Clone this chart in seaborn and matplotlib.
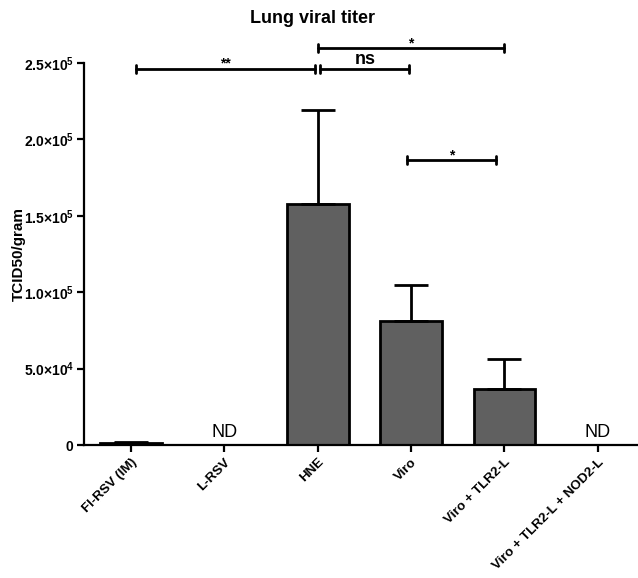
import numpy as np
import pandas as pd
import seaborn as sns
import matplotlib.pyplot as plt

# data
groups = ['FI-RSV (IM)', 'L-RSV', 'HNE', 'Viro', 'Viro + TLR2-L', 'Viro + TLR2-L + NOD2-L']
titer = [1200, 0, 158000, 81000, 36600, 0]
sem = [900, 0, 61000, 23600, 19600, 0]
detected = [True, False, True, True, True, False]

# significance brackets: (x start, x end, height, label)
brackets = [
    (0.05, 1.97, 246300, '**'),
    (2.03, 2.98, 246300, 'ns'),
    (2.00, 3.99, 260000, '*'),
    (2.96, 3.91, 186400, '*'),
]

yticks = [0, 50000, 100000, 150000, 200000, 250000]
ytick_labels = [r'$\mathbf{0}$', r'$\mathbf{5.0{\times}10^4}$', r'$\mathbf{1.0{\times}10^5}$',
                r'$\mathbf{1.5{\times}10^5}$', r'$\mathbf{2.0{\times}10^5}$', r'$\mathbf{2.5{\times}10^5}$']

sns.set_style('ticks')
plt.rcParams['font.family'] = ['Liberation Sans', 'DejaVu Sans']
plt.rcParams['mathtext.fontset'] = 'custom'
plt.rcParams['mathtext.rm'] = 'Liberation Sans'
plt.rcParams['mathtext.bf'] = 'Liberation Sans:bold'
for k in ['text.color', 'axes.labelcolor', 'xtick.color', 'ytick.color', 'axes.edgecolor']:
    plt.rcParams[k] = 'black'

df = pd.DataFrame({'group': groups, 'titer': titer})

fig = plt.figure(figsize=(6.38, 5.78), dpi=100)
ax = fig.add_axes([0.132, 0.230, 0.868, 0.661])

sns.barplot(data=df, x='group', y='titer', color='#606060', saturation=1,
            edgecolor='black', linewidth=2, width=0.66, errorbar=None, ax=ax)

# upward-only error bars
xs = np.arange(len(groups))
for x, m, e, d in zip(xs, titer, sem, detected):
    if not d:
        ax.text(x, 2500, 'ND', ha='center', va='bottom', fontsize=13)
        continue
    ax.errorbar(x, m, yerr=[[0], [e]], fmt='none', ecolor='black',
                elinewidth=2, capsize=12, capthick=2, zorder=1)

# significance brackets
for x0, x1, h, lab in brackets:
    ax.plot([x0, x1], [h, h], color='black', lw=2, clip_on=False)
    for xe in (x0, x1):
        ax.plot([xe, xe], [h - 2600, h + 2600], color='black', lw=2, clip_on=False)
    if lab == 'ns':
        ax.text((x0 + x1) / 2, h + 600, lab, ha='center', va='bottom',
                fontsize=13, fontweight='bold')
    else:
        ax.text((x0 + x1) / 2, h - 1500, lab, ha='center', va='bottom',
                fontsize=10, fontweight='bold')

ax.set_xlim(-0.5, 5.43)
ax.set_ylim(0, 250000)
ax.set_yticks(yticks)
ax.set_yticklabels(ytick_labels, fontsize=10)
ax.set_xticks(xs)
ax.set_xticklabels(groups, rotation=45, ha='right', rotation_mode='anchor',
                   fontsize=9.6, fontweight='bold')
ax.set_xlabel('')
ax.set_ylabel('TCID50/gram', fontsize=11, fontweight='bold')
ax.yaxis.set_label_coords(-0.105, 0.5)
fig.text(0.49, 0.968, 'Lung viral titer', ha='center', va='center',
         fontsize=13, fontweight='bold')

for s in ['top', 'right']:
    ax.spines[s].set_visible(False)
for s in ['left', 'bottom']:
    ax.spines[s].set_linewidth(1.6)
ax.tick_params(axis='both', width=1.6, length=5, color='black')
ax.tick_params(axis='x', pad=3)
ax.tick_params(axis='y', pad=2)

fig.savefig('out.png', dpi=100)
